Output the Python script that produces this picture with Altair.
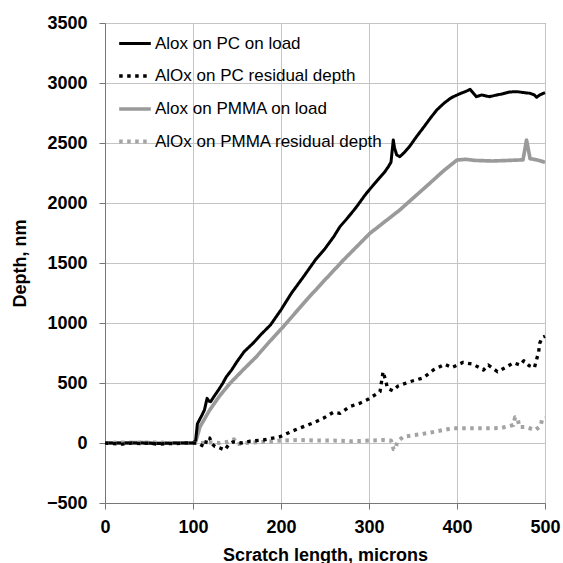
import altair as alt
import pandas as pd

SERIES = ["Alox on PC on load", "AlOx on PC residual depth",
          "Alox on PMMA on load", "AlOx on PMMA residual depth"]

pc_load_x = [0, 20, 40, 60, 80, 100, 103, 105, 110, 113, 116, 118, 120, 125, 129, 134, 138, 144, 150,
             158, 168, 178, 188, 200, 212, 225, 239, 250, 260, 267, 275, 285, 297, 305, 312, 318, 322,
             325, 327.6, 329, 331.5, 335, 340, 346, 354, 362, 370, 377, 385, 392, 396, 403, 410, 415,
             418, 422, 428, 437, 445, 452, 460, 468, 476, 483, 488, 490.5, 494, 498, 500]
pc_load_y = [0, 0, 0, -5, 0, 0, 20, 160, 230, 275, 372, 350, 344, 400, 442, 500, 553, 610, 678,
             760, 830, 910, 983, 1110, 1250, 1380, 1525, 1620, 1720, 1803, 1870, 1960, 2081, 2150, 2210, 2260, 2303,
             2340, 2525, 2460, 2400, 2386, 2420, 2470, 2553, 2630, 2710, 2775, 2830, 2870, 2886, 2910, 2930, 2947,
             2920, 2886, 2900, 2886, 2900, 2910, 2925, 2928, 2920, 2914, 2900, 2881, 2900, 2914, 2920]

pc_res_x = [0, 10, 20, 30, 40, 50, 60, 70, 80, 90, 100, 105, 110, 113.6, 116, 119, 122, 125, 130, 136,
            141, 145.7, 155, 165, 180, 199, 210, 221.6, 237, 248, 259.5, 267, 278, 289, 299, 312.5, 316,
            319, 321, 327, 333, 346.6, 362, 373, 386, 394, 407, 418.5, 430, 435.6, 446, 457, 464, 471.6,
            476, 482, 488, 490.5, 492.8, 494, 497, 500]
pc_res_y = [0, -5, -10, 0, -5, 0, -10, -5, -5, 0, 0, 0, -20, -30, 47, 40, -10, -30, -40, -58,
            -10, 10, 0, 15, 25, 53, 90, 125, 169, 206, 256, 247, 303, 330, 364, 428, 594,
            519, 456, 436, 475, 511, 544, 608, 656, 628, 672, 656, 608, 650, 594, 636, 669, 650,
            686, 644, 628, 697, 761, 831, 881, 890]

pmma_load_x = [0, 20, 40, 60, 80, 100, 103, 108, 119, 130, 142, 157, 172, 187, 202.6, 229, 250, 271,
               301, 335, 369, 385, 400, 410, 420, 440, 460, 475, 477, 479, 481, 483, 490, 498, 500]
pmma_load_y = [0, 0, 5, 0, 0, 0, 10, 136, 275, 390, 497, 610, 719, 845, 969, 1192, 1360, 1525,
               1747, 1942, 2164, 2270, 2358, 2364, 2355, 2350, 2355, 2360, 2440, 2525, 2450, 2370, 2360, 2344, 2340]

pmma_res_x = [0, 20, 40, 60, 80, 100, 110, 120, 130, 140, 146.6, 150, 160, 180, 200, 220, 240, 260,
              280, 300, 315, 325, 328, 330, 332, 339, 358, 375, 394, 411, 430, 450, 464, 466, 469, 471,
              478, 489, 495, 497, 500]
pmma_res_y = [0, 5, 0, 5, 0, 0, 0, 5, 0, 10, 31, -10, 0, 10, 20, 25, 20, 20,
              15, 20, 25, 20, -53, -53, 10, 53, 72, 94, 122, 122, 122, 125, 150, 214, 200, 133,
              133, 108, 142, 206, 210]

x_ticks = [0, 100, 200, 300, 400, 500]
y_ticks = [-500, 0, 500, 1000, 1500, 2000, 2500, 3000, 3500]

rows = []
for name, xs, ys in [(SERIES[2], pmma_load_x, pmma_load_y),
                     (SERIES[0], pc_load_x, pc_load_y),
                     (SERIES[3], pmma_res_x, pmma_res_y),
                     (SERIES[1], pc_res_x, pc_res_y)]:
    for i, (a, b) in enumerate(zip(xs, ys)):
        rows.append({"series": name, "x": a, "y": b, "i": i})
df = pd.DataFrame(rows)

FONT = "Liberation Sans"

chart = alt.Chart(df).mark_line(strokeJoin="round").encode(
    x=alt.X("x:Q", scale=alt.Scale(domain=[0, 500], nice=False),
            axis=alt.Axis(values=x_ticks, title="Scratch length, microns", titleY=57,
                          titleBaseline="alphabetic", labelPadding=9, format="d")),
    y=alt.Y("y:Q", scale=alt.Scale(domain=[-500, 3500], nice=False),
            axis=alt.Axis(values=y_ticks, title="Depth, nm", titleX=-85, titleY=240,
                          titleAngle=-90, titleAlign="center", titleBaseline="middle",
                          labelPadding=12, format="d")),
    color=alt.Color("series:N", scale=alt.Scale(domain=SERIES,
                    range=["#000000", "#000000", "#9a9a9a", "#a3a3a3"]), title=None),
    strokeDash=alt.StrokeDash("series:N", scale=alt.Scale(domain=SERIES,
                    range=[[1, 0], [3.5, 4.5], [1, 0], [3.5, 4.5]]), title=None),
    strokeWidth=alt.StrokeWidth("series:N", scale=alt.Scale(domain=SERIES,
                    range=[3, 4, 3, 4]), title=None),
    order="i:Q",
).properties(
    width=440, height=480,
    autosize=alt.AutoSizeParams(type="none"),
    padding={"left": 105, "top": 23, "right": 18, "bottom": 60},
).configure_view(
    stroke="#777777", strokeWidth=1
).configure_axis(
    labelFont=FONT, labelFontSize=18, labelFontWeight="bold", labelColor="#000000",
    titleFont=FONT, titleFontSize=18, titleFontWeight="bold", titleColor="#000000",
    gridColor="#c4c4c4", gridWidth=1, domainColor="#777777", tickColor="#777777",
    tickSize=6, labelFlush=False, labelOverlap=False,
).configure_legend(
    orient="none", legendX=12, legendY=3, padding=0,
    labelFont=FONT, labelFontSize=17, labelColor="#000000", labelOffset=2,
    symbolType="stroke", symbolSize=1000, rowPadding=6.5, labelLimit=400,
)

chart.save("out.html", embed_options={"renderer": "svg", "actions": False})
